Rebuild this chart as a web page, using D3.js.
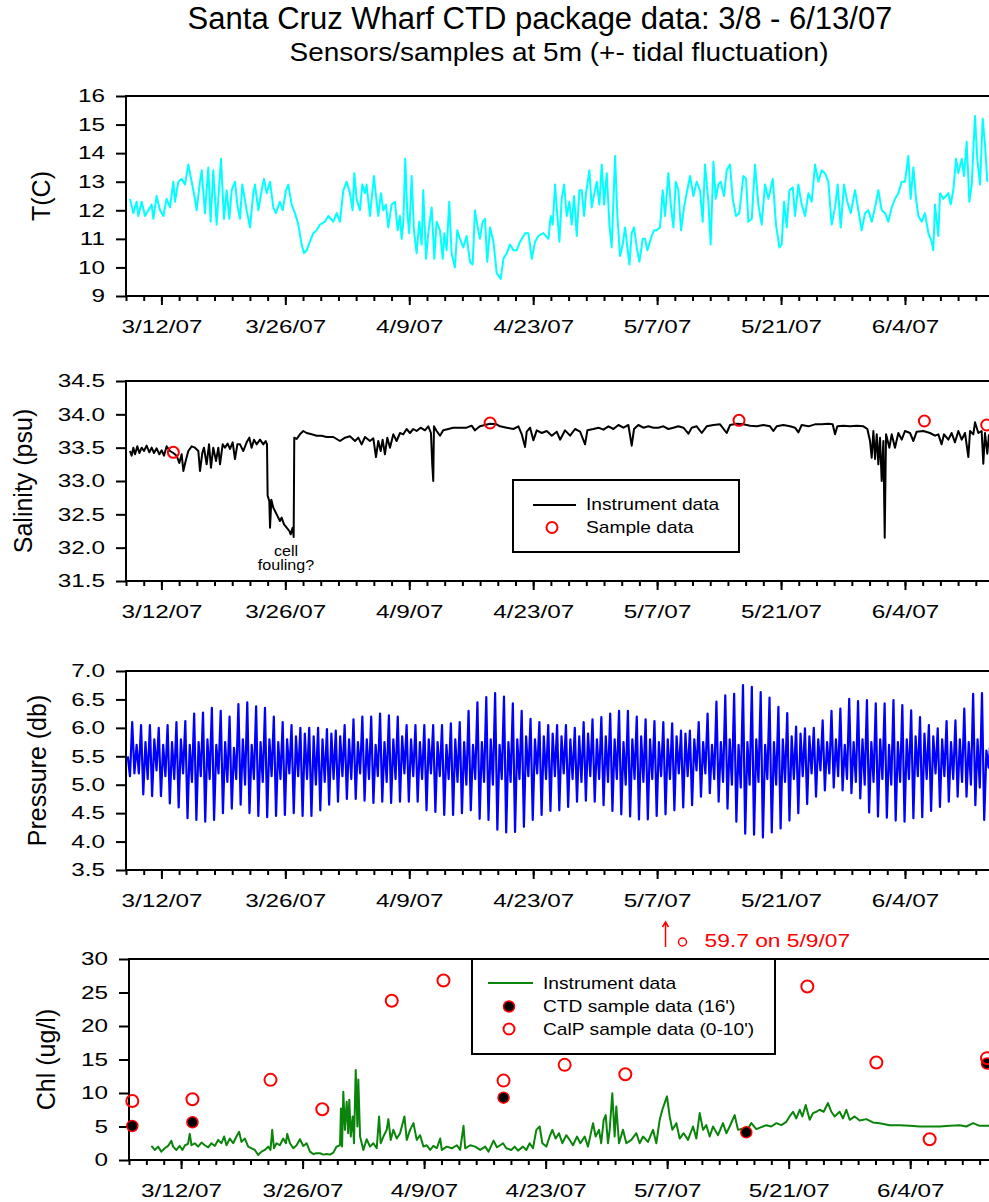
<!DOCTYPE html>
<html>
<head>
<meta charset="utf-8">
<script src="https://cdn.jsdelivr.net/npm/d3@7"></script>
<style>
  body { margin: 0; background: #fff; }
  text { font-family: "Liberation Sans", Arial, sans-serif; }
</style>
</head>
<body>
<svg id="chart" width="989" height="1202"></svg>
<script>
// ---- data (days counted from 3/8/07 00:00) ----
var dateTicks = ["3/12/07", "3/26/07", "4/9/07", "4/23/07", "5/7/07", "5/21/07", "6/4/07"];

// temperature, [day, degC]
var tempData = [
[0.45,12.4],[0.83,11.9],[1.20,12.3],[1.39,11.8],[1.77,12.3],[2.15,11.8],[2.52,12.0],[2.90,12.2],[3.09,11.7],[3.46,12.5],
[3.84,12.0],[4.22,11.8],[4.59,12.4],[4.97,12.1],[5.35,13.0],[5.53,12.3],[5.91,13.0],[6.29,13.1],[6.66,12.9],[7.04,13.6],
[7.42,13.0],[7.79,12.4],[7.98,12.0],[8.36,13.0],[8.55,13.4],[8.92,11.9],[9.30,13.5],[9.56,11.6],[9.86,13.4],[10.24,11.5],
[10.73,13.8],[11.07,11.7],[11.37,12.7],[11.67,11.7],[11.94,12.7],[12.31,13.0],[12.58,12.2],[12.88,11.7],[13.14,12.9],[13.63,12.0],
[14.01,11.4],[14.38,12.6],[14.57,12.9],[14.95,12.0],[15.32,12.7],[15.59,13.1],[15.89,12.6],[16.27,13.0],[16.64,12.1],[16.94,11.9],
[17.39,12.3],[17.70,12.0],[18.07,12.7],[18.34,12.9],[18.71,12.2],[19.09,11.9],[19.28,11.7],[19.47,11.5],[19.84,10.8],[20.11,10.5],
[20.41,10.6],[20.78,10.9],[21.16,11.2],[21.54,11.3],[21.91,11.5],[22.48,11.6],[22.85,11.8],[23.42,11.6],[23.80,11.9],[24.17,11.6],
[24.55,12.7],[24.92,13.0],[25.30,12.6],[25.60,12.0],[25.79,13.3],[26.05,12.4],[26.43,12.0],[26.69,12.9],[27.00,12.6],[27.18,12.9],
[27.56,11.8],[28.01,13.2],[28.31,12.3],[28.50,11.8],[28.80,12.6],[29.07,12.0],[29.37,12.2],[29.63,11.4],[30.01,12.2],[30.38,12.3],
[30.69,11.3],[30.95,11.8],[31.14,11.0],[31.33,11.6],[31.55,13.8],[31.78,11.9],[32.00,11.2],[32.27,13.2],[32.53,11.3],[32.83,10.5],
[33.13,11.6],[33.40,10.8],[33.58,12.7],[33.89,10.3],[34.15,11.2],[34.53,12.1],[34.83,10.3],[35.09,11.6],[35.47,11.3],[35.77,10.3],
[35.96,11.2],[36.22,10.6],[36.52,12.3],[36.78,10.5],[37.16,10.0],[37.42,11.3],[37.73,11.0],[38.10,10.7],[38.48,11.1],[38.86,10.2],
[39.16,10.1],[39.42,12.0],[39.68,11.5],[39.98,11.0],[40.29,11.6],[40.55,11.7],[40.81,10.2],
[41.13,11.4],[41.51,10.9],[41.88,9.8],[42.33,9.6],[42.64,10.3],[43.01,10.5],[43.39,10.8],[43.77,10.6],[44.14,10.6],[44.52,10.9],
[45.08,11.2],[45.46,11.2],[45.84,10.3],[46.21,10.9],[46.59,11.1],[47.15,11.2],[47.72,11.0],[47.98,11.8],[48.21,11.5],[48.47,12.9],
[48.73,11.8],[48.96,10.9],[49.22,12.4],[49.49,12.9],[49.79,11.8],[50.09,12.3],[50.35,11.5],[50.62,12.5],[50.92,11.1],[51.22,12.7],
[51.48,12.7],[51.75,11.8],[51.97,12.6],[52.35,13.4],[52.61,12.1],[52.91,12.6],[53.18,13.0],[53.48,12.2],[53.74,13.6],[54.01,12.2],
[54.31,13.3],[54.61,11.5],[54.87,10.7],[55.25,13.9],[55.51,11.8],[55.81,10.4],[56.11,10.8],[56.38,11.4],[56.87,10.1],[57.13,11.2],
[57.39,11.4],[57.70,10.7],[58.00,10.2],[58.37,11.0],[58.64,11.0],[58.90,10.6],[59.39,11.1],[59.65,11.3],[59.95,11.3],[60.33,11.4],
[60.63,12.7],[60.90,11.8],[61.27,13.3],[61.54,12.2],[61.84,11.4],[62.10,13.0],[62.40,12.7],[62.70,11.3],[63.04,12.1],[63.34,12.6],
[63.72,13.2],[64.10,12.5],[64.47,13.0],[64.85,12.7],[65.15,11.6],[65.41,13.6],[65.79,12.3],[66.05,10.8],[66.36,13.7],[66.62,12.4],
[66.92,12.9],[67.18,13.0],[67.56,12.5],[67.86,13.4],[68.24,13.6],[68.54,12.4],[68.92,11.8],[69.29,11.9],[69.74,13.2],[70.05,13.1],
[70.31,11.6],[70.69,11.7],[71.06,13.6],[71.44,12.2],[71.81,11.5],[72.19,12.9],[72.57,12.4],[73.06,13.1],[73.43,11.5],[73.81,10.7],
[74.07,10.8],[74.34,12.3],[74.64,11.4],[74.94,12.7],[75.32,12.8],[75.58,11.8],[75.96,12.9],[76.33,12.2],[76.71,11.8],[77.09,12.6],
[77.46,12.3],[77.84,13.6],[78.22,13.0],[78.59,13.4],[78.97,13.3],[79.34,13.0],[79.72,11.5],[80.10,12.1],[80.40,12.9],[80.74,11.4],
[81.11,12.9],[81.49,12.3],[81.87,11.9],[82.36,12.7],[82.73,12.0],[83.11,11.3],[83.49,11.9],[83.86,12.0],[84.24,11.6],[84.62,12.1],
[84.99,12.7],[85.37,12.0],[85.75,11.9],[86.12,11.6],[86.50,12.1],[86.87,12.4],[87.25,12.6],[87.63,13.0],[88.00,13.0],[88.38,13.9],
[88.64,12.4],[88.95,13.5],[89.25,12.4],[89.51,11.8],[89.89,11.6],[90.26,11.9],[90.64,11.2],[91.02,10.9],[91.20,10.6],[91.39,12.2],
[91.77,11.1],[91.96,12.6],[92.33,12.4],[92.64,12.5],[92.90,12.6],[93.16,12.2],[93.46,12.7],[93.77,13.8],[94.03,13.3],[94.41,13.8],
[94.67,13.2],[94.97,14.4],[95.27,12.3],[95.54,12.9],[95.91,15.3],[96.17,13.8],[96.48,12.9],[96.78,15.2],[97.04,14.3],[97.30,13.0]
];

// salinity, [day, psu]
var salData = [
[0.45,33.45],[0.64,33.38],[0.83,33.5],[1.02,33.4],[1.28,33.52],[1.51,33.42],[1.77,33.5],[2.03,33.45],[2.33,33.53],[2.64,33.43],
[2.90,33.5],[3.16,33.42],[3.46,33.49],[3.77,33.4],[4.03,33.46],[4.29,33.38],[4.59,33.52],[4.97,33.45],[5.35,33.42],[5.72,33.38],
[6.02,33.27],[6.29,33.4],[6.48,33.15],[6.74,33.3],[7.04,33.45],[7.42,33.52],[7.79,33.5],[8.17,33.45],[8.36,33.15],[8.62,33.42],
[8.81,33.5],[9.11,33.25],[9.38,33.55],[9.60,33.2],[9.86,33.5],[10.17,33.3],[10.43,33.5],[10.62,33.25],[10.92,33.55],[11.18,33.5],
[11.48,33.56],[11.75,33.48],[12.05,33.58],[12.31,33.33],[12.58,33.55],[12.88,33.55],[13.25,33.45],[13.63,33.58],[13.93,33.65],[14.19,33.5],
[14.46,33.62],[14.76,33.55],[15.14,33.62],[15.51,33.55],[15.78,33.6],[15.93,33.55],[16.0,32.78],[16.19,32.7],[16.27,32.3],[16.42,32.72],
[16.64,32.6],[16.83,32.55],[17.09,32.48],[17.39,32.4],[17.58,32.45],[17.85,32.35],[18.15,32.3],[18.45,32.25],[18.60,32.2],[18.83,32.3],
[18.94,32.16],[19.01,33.65],[19.28,33.63],[19.65,33.7],[20.03,33.75],[20.41,33.72],[20.97,33.7],[21.54,33.68],[22.10,33.68],[22.67,33.66],
[23.42,33.66],[24.17,33.6],[24.74,33.65],[25.30,33.67],[25.87,33.6],[26.24,33.65],[26.62,33.55],[27.00,33.66],[27.56,33.6],[27.94,33.64],
[28.24,33.36],[28.50,33.6],[28.77,33.45],[28.99,33.62],[29.25,33.4],[29.52,33.65],[29.82,33.5],[30.20,33.7],[30.57,33.6],[30.95,33.72],
[31.33,33.7],[31.70,33.78],[32.08,33.72],[32.45,33.78],[32.83,33.75],[33.28,33.8],[33.77,33.76],[34.15,33.82],[34.45,33.72],[34.60,33.24],
[34.71,33.0],[34.79,33.82],[35.09,33.75],[35.47,33.68],[35.84,33.76],[36.41,33.78],[36.97,33.8],[37.73,33.8],[38.48,33.8],[39.05,33.83],
[39.42,33.76],[39.98,33.82],[40.55,33.84],[41.11,33.86],[41.87,33.85],[42.26,33.82],[43.01,33.8],[43.77,33.78],[44.33,33.82],[44.71,33.7],
[45.08,33.51],[45.27,33.74],[45.65,33.8],[46.02,33.61],[46.40,33.76],[46.97,33.72],[47.53,33.75],[48.10,33.68],[48.66,33.74],[49.04,33.62],
[49.60,33.76],[50.17,33.68],[50.73,33.78],[51.30,33.74],[51.86,33.55],[52.12,33.76],[52.80,33.78],[53.37,33.8],[53.93,33.77],[54.50,33.82],
[55.06,33.78],[55.63,33.84],[56.19,33.8],[56.75,33.84],[57.13,33.53],[57.39,33.78],[57.88,33.84],[58.45,33.8],[59.01,33.82],[59.58,33.8],
[60.14,33.8],[60.71,33.82],[61.27,33.78],[61.84,33.8],[62.40,33.82],[62.97,33.8],[63.53,33.71],[63.91,33.8],[64.47,33.82],[65.04,33.72],
[65.60,33.82],[66.36,33.84],[67.11,33.85],[67.86,33.72],[68.24,33.84],[68.99,33.86],[69.74,33.85],[70.50,33.83],[71.25,33.82],[72.00,33.84],
[72.76,33.82],[73.13,33.75],[73.51,33.82],[74.26,33.84],[75.02,33.82],[75.58,33.8],[75.96,33.73],[76.33,33.84],[77.09,33.82],[77.84,33.85],
[78.59,33.85],[79.34,33.86],[79.83,33.85],[80.10,33.7],[80.36,33.82],[81.04,33.83],[81.79,33.82],[82.55,33.83],[83.30,33.82],[83.75,33.78],
[84.05,33.6],[84.24,33.35],[84.43,33.75],[84.62,33.33],[84.81,33.7],[84.99,33.25],[85.18,33.65],[85.37,33.0],[85.56,33.6],[85.71,32.15],
[85.86,33.7],[86.24,33.5],[86.50,33.7],[86.87,33.5],[87.25,33.72],[87.63,33.62],[88.00,33.75],[88.57,33.72],[88.95,33.6],[89.32,33.74],
[90.08,33.75],[90.83,33.72],[91.39,33.68],[91.77,33.7],[92.14,33.55],[92.41,33.7],[92.90,33.62],[93.27,33.72],[93.65,33.58],[94.03,33.75],
[94.41,33.62],[94.78,33.72],[95.16,33.36],[95.35,33.75],[95.72,33.7],[95.91,33.88],[96.29,33.72],[96.66,33.75],[96.85,33.26],[97.04,33.72],
[97.30,33.41],[97.49,33.7]
];
var salSamples = [[5.35,33.43],[41.13,33.87],[69.25,33.91],[90.19,33.9],[97.23,33.84]];

// pressure, one value per day (3/8 .. 6/13) for each of the four daily tides
var presHH = [6.1,6.05,6.05,6.0,6.05,6.1,6.12,6.25,6.27,6.35, 6.3,6.2,6.42,6.45,6.38,6.35,6.2,6.1,6.05,6.0,
  6.0,6.0,5.98,5.95,6.05,6.15,6.2,6.2,6.25,6.22, 6.2,6.05,6.05,6.05,6.05,6.05,6.08,6.1,6.3,6.45,
  6.54,6.61,6.55,6.43,6.3,6.16,6.1,6.05,6.05,6.05, 6.0,6.1,6.15,6.19,6.25,6.3,6.3,6.2,6.15,6.12,
  6.1,6.08,5.95,5.95,6.1,6.25,6.46,6.57,6.6,6.75, 6.72,6.63,6.53,6.37,6.26,6.02,5.99,6.0,6.13,6.3,
  6.34,6.51,6.47,6.49,6.43,6.43,6.49,6.4,6.31,6.19, 6.05,5.99,6.12,6.13,6.34,6.6,6.61,5.9];
var presLL = [5.2,4.83,4.8,4.8,4.67,4.6,4.41,4.38,4.35,4.38, 4.5,4.58,4.65,4.5,4.45,4.43,4.45,4.47,4.5,4.45,
  4.45,4.55,4.65,4.7,4.75,4.75,4.72,4.68,4.7,4.68, 4.7,4.7,4.7,4.55,4.52,4.47,4.47,4.5,4.55,4.4,
  4.38,4.21,4.16,4.17,4.26,4.38,4.47,4.54,4.55,4.61, 4.7,4.72,4.7,4.64,4.54,4.48,4.44,4.39,4.39,4.45,
  4.48,4.55,4.6,4.64,4.79,4.85,4.7,4.58,4.35,4.14, 4.12,4.07,4.16,4.23,4.37,4.5,4.66,4.79,4.9,4.95,
  4.9,4.85,4.76,4.51,4.44,4.42,4.37,4.35,4.41,4.43, 4.54,4.61,4.7,4.79,4.79,4.64,4.38,4.29];
var presLH = [5.5,5.7,5.75,5.8,5.7,5.75,5.8,5.7,5.75,5.8, 5.7,5.75,5.65,5.8,5.7,5.75,5.8,5.75,5.8,5.85,
  5.9,5.85,5.8,5.9,5.85,5.8,5.75,5.8,5.7,5.75, 5.8,5.85,5.8,5.75,5.8,5.75,5.7,5.8,5.75,5.7,
  5.75,5.8,5.7,5.75,5.8,5.85,5.8,5.85,5.9,5.85, 5.8,5.85,5.9,5.8,5.85,5.8,5.75,5.8,5.85,5.8,
  5.75,5.8,5.85,5.9,5.8,5.75,5.7,5.75,5.8,5.7, 5.75,5.8,5.7,5.75,5.8,5.85,5.9,5.85,5.8,5.75,
  5.8,5.7,5.75,5.8,5.75,5.8,5.7,5.75,5.8,5.85, 5.9,5.85,5.8,5.75,5.8,5.75,5.8,5.6];
var presHL = [5.15,5.2,5.1,5.25,5.15,5.1,5.2,5.05,5.15,5.1, 5.2,5.05,5.1,5.0,5.1,5.05,5.15,5.1,5.2,5.15,
  5.1,5.0,5.05,5.1,5.15,5.1,5.2,5.1,5.15,5.05, 5.1,5.2,5.15,5.1,5.2,5.15,5.1,5.05,5.0,5.1,
  5.05,5.0,5.1,5.05,5.1,5.15,5.2,5.1,5.15,5.2, 5.1,5.05,5.15,5.1,5.05,5.1,5.0,5.1,5.05,5.1,
  5.15,5.1,5.2,5.15,5.25,5.2,5.1,5.05,5.0,4.95, 5.0,5.05,5.1,5.0,5.05,5.1,5.15,5.2,5.25,5.2,
  5.15,5.1,5.05,5.0,5.05,5.1,5.0,5.05,5.1,5.15, 5.1,5.2,5.15,5.1,5.05,5.0,4.95,5.3];

// chlorophyll instrument, [day, ug/l]
var chlData = [
[0.58,2.1],[0.96,1.5],[1.35,2.0],[1.73,1.25],[2.12,1.75],[2.5,2.1],[2.88,2.85],[3.08,2.0],[3.46,1.5],[3.85,2.1],
[4.15,1.5],[4.46,2.2],[4.8,2.4],[5.0,3.9],[5.2,2.2],[5.58,2.5],[5.96,2.0],[6.35,2.6],[6.73,2.2],[7.12,1.9],
[7.5,2.5],[7.88,2.1],[8.27,3.0],[8.65,2.5],[8.96,3.5],[9.23,2.2],[9.62,3.2],[10.0,2.5],[10.38,3.5],[10.69,4.2],
[10.96,2.7],[11.35,3.2],[11.73,2.0],[12.12,1.75],[12.5,1.5],[12.88,0.75],[13.27,1.25],[13.65,1.5],[14.04,2.0],[14.3,1.5],
[14.5,4.5],[14.7,1.75],[15.0,2.5],[15.38,2.2],[15.77,3.2],[16.08,2.5],[16.23,3.9],[16.54,2.5],[16.92,1.75],[17.31,2.2],
[17.69,3.1],[18.08,2.1],[18.46,2.5],[18.85,1.25],[19.23,0.9],[19.6,1.0],[20.0,1.0],[20.4,0.8],[20.77,0.9],[21.15,0.8],
[21.54,1.1],[21.92,2.0],[22.31,2.2],[22.42,7.7],[22.55,2.0],[22.69,10.2],[22.88,4.5],[23.08,8.7],[23.25,4.0],[23.38,9.0],
[23.55,3.5],[23.77,6.5],[23.92,2.5],[24.12,13.45],[24.31,5.0],[24.42,12.0],[24.62,3.5],[25.0,1.5],[25.38,3.1],[25.77,2.0],
[26.15,2.5],[26.54,1.75],[26.81,6.5],[27.0,2.5],[27.31,3.5],[27.69,4.5],[27.88,6.1],[28.15,3.0],[28.46,4.5],[28.85,3.2],
[29.23,4.0],[29.73,6.5],[30.0,3.0],[30.38,4.5],[30.77,5.5],[31.15,3.0],[31.54,3.7],[31.92,2.0],[32.31,2.2],[32.69,1.5],
[33.08,2.1],[33.46,1.75],[33.85,3.2],[34.04,1.5],[34.62,2.0],[35.19,1.75],[35.77,2.2],[36.15,1.5],[36.54,5.1],[36.73,1.75],
[37.31,2.2],[37.88,2.0],[38.46,1.5],[39.04,2.0],[39.42,1.25],[40.0,2.9],[40.38,1.9],[40.77,2.2],[41.09,2.5],[41.47,1.75],
[42.05,1.5],[42.43,2.0],[42.82,1.4],[43.39,2.0],[43.78,1.5],[44.16,2.5],[44.54,1.75],[44.93,4.5],[45.31,5.0],[45.62,2.5],
[46.08,2.0],[46.46,3.5],[46.77,4.5],[47.16,3.2],[47.54,4.0],[47.92,2.5],[48.38,3.7],[48.77,3.0],[49.15,2.2],[49.61,3.5],
[50.0,2.5],[50.5,3.5],[50.88,2.0],[51.46,5.5],[51.76,3.5],[52.15,4.5],[52.4,2.5],[52.69,6.0],[52.92,6.7],[53.18,2.5],
[53.38,4.5],[53.68,9.97],[53.95,3.5],[54.14,8.0],[54.45,2.5],[54.91,4.5],[55.3,2.5],[55.87,3.0],[56.45,4.0],[56.83,2.5],
[57.22,3.5],[57.79,2.7],[58.37,4.5],[58.75,2.5],[59.14,6.0],[59.44,7.5],[59.71,8.5],[59.98,9.5],[60.29,6.5],[60.6,4.5],
[61.06,5.5],[61.44,3.2],[61.9,4.0],[62.4,3.0],[62.98,5.0],[63.36,3.2],[63.75,7.0],[64.13,4.5],[64.51,5.2],[64.9,3.5],
[65.28,5.0],[65.86,3.7],[66.43,5.5],[66.82,4.0],[67.2,5.0],[67.78,6.7],[68.16,4.5],[68.74,4.7],[69.31,4.7],[69.7,5.5],
[70.27,4.6],[70.85,4.9],[71.43,5.2],[72.0,5.0],[72.58,5.5],[73.15,5.2],[73.73,5.7],[74.11,6.5],[74.5,7.2],[74.88,6.2],
[75.27,7.5],[75.57,6.5],[75.96,8.2],[76.42,6.0],[76.8,7.0],[77.19,7.2],[77.57,7.5],[78.03,7.2],[78.53,8.5],[78.91,7.2],
[79.3,6.5],[79.87,7.2],[80.26,6.2],[80.64,7.5],[81.03,6.0],[81.6,6.5],[82.18,5.9],[82.95,6.1],[83.71,5.6],[84.48,5.5],
[85.63,5.2],[86.79,5.2],[87.94,5.1],[89.09,5.0],[90.24,5.0],[91.4,5.0],[92.55,5.1],[93.7,5.2],[94.47,5.0],[95.24,5.5],
[96.0,5.1],[97.04,5.1],[97.6,5.0]
];
var ctdSamples = [[-1.62,5.08],[5.31,5.63],[41.15,9.3],[69.12,4.13],[96.85,14.4]];
var calpSamples = [[-1.62,8.8],[5.31,9.07],[14.3,11.96],[20.27,7.57],[28.27,23.77],[34.23,26.8],[41.15,11.85],
  [48.19,14.2],[55.18,12.8],[62.0,59.7],[76.15,25.9],[84.1,14.55],[90.24,3.09],[96.85,15.2]];

// ---- drawing ----
var svg = d3.select("#chart");
var SX = 1.35; // the tick lettering in the original is stretched sideways
var parse = d3.timeParse("%m/%d/%y");
var fmtDay = d3.timeFormat("%-m/%-d/%y");
var t0 = parse("3/8/07");
function atDay(d) { return new Date(+t0 + d * 864e5); }

function panel(o) {
  var x = d3.scaleTime().domain([parse(o.from), parse("6/14/07")]).range([o.left, o.right]);
  var y = d3.scaleLinear().domain(o.yDomain).range([o.bottom, o.top]);
  var g = svg.append("g");

  // minor ticks every 2 days
  g.append("g").attr("transform", "translate(0," + o.bottom + ")")
    .call(d3.axisBottom(x).tickValues(d3.timeDay.range(x.domain()[0], x.domain()[1], 2))
      .tickSize(5).tickSizeOuter(0).tickFormat(""))
    .call(function(a) { a.select(".domain").remove(); a.selectAll("line").attr("stroke-width", 2); });
  // major ticks with date labels
  g.append("g").attr("transform", "translate(0," + o.bottom + ")")
    .call(d3.axisBottom(x).tickValues(dateTicks.map(parse)).tickSize(9).tickSizeOuter(0).tickFormat(fmtDay))
    .attr("font-size", 18).attr("font-family", null)
    .call(function(a) {
      a.select(".domain").remove();
      a.selectAll("line").attr("stroke-width", 2);
      a.selectAll("text").attr("y", 24).attr("transform", "scale(" + SX + ",1)").attr("fill", "#000");
    });
  // y axis
  g.append("g").attr("transform", "translate(" + o.left + ",0)")
    .call(d3.axisLeft(y).tickValues(o.yTicks).tickSize(10).tickSizeOuter(0).tickFormat(o.yFmt))
    .attr("font-size", 18).attr("font-family", null)
    .call(function(a) {
      a.select(".domain").remove();
      a.selectAll("line").attr("stroke-width", 2);
      a.selectAll("text").attr("x", -21 / SX).attr("transform", "scale(" + SX + ",1)").attr("fill", "#000");
    });
  // frame (right side runs off the page like in the original)
  g.append("rect").attr("x", o.left).attr("y", o.top)
    .attr("width", o.right - o.left).attr("height", o.bottom - o.top)
    .attr("fill", "none").attr("stroke", "#000").attr("stroke-width", 2);
  // axis title
  g.append("text")
    .attr("transform", "translate(" + o.titleX + "," + (o.top + o.bottom) / 2 + ") rotate(-90)")
    .attr("text-anchor", "middle").attr("font-size", 25).text(o.title);
  return { g: g, x: x, y: y };
}

function drawLine(p, data, color, width) {
  var line = d3.line().x(function(d) { return p.x(atDay(d[0])); }).y(function(d) { return p.y(d[1]); });
  p.g.append("path").datum(data).attr("d", line)
    .attr("fill", "none").attr("stroke", color).attr("stroke-width", width).attr("stroke-linejoin", "round");
}

// title
svg.append("text").attr("x", 540).attr("y", 29).attr("text-anchor", "middle")
  .attr("font-size", 31).text("Santa Cruz Wharf CTD package data: 3/8 - 6/13/07");
svg.append("text").attr("transform", "translate(559,61) scale(1.12,1)").attr("text-anchor", "middle")
  .attr("font-size", 25).text("Sensors/samples at 5m (+- tidal fluctuation)");

// temperature
var pT = panel({ from: "3/8/07", left: 126, right: 993.5, top: 96, bottom: 296,
  yDomain: [9, 16], yTicks: d3.range(9, 17), yFmt: d3.format("d"), title: "T(C)", titleX: 50 });
drawLine(pT, tempData, "#00ffff", 2);

// salinity
var pS = panel({ from: "3/8/07", left: 126, right: 993.5, top: 381, bottom: 581,
  yDomain: [31.5, 34.5], yTicks: d3.range(31.5, 34.51, 0.5), yFmt: d3.format(".1f"), title: "Salinity (psu)", titleX: 32 });
drawLine(pS, salData, "#000", 2);
pS.g.selectAll("circle.s").data(salSamples).enter().append("circle")
  .attr("cx", function(d) { return pS.x(atDay(d[0])); }).attr("cy", function(d) { return pS.y(d[1]); })
  .attr("r", 5.5).attr("fill", "none").attr("stroke", "#ff0000").attr("stroke-width", 2);
pS.g.append("text").attr("transform", "translate(286,556) scale(1.15,1)").attr("text-anchor", "middle")
  .attr("font-size", 14).text("cell");
pS.g.append("text").attr("transform", "translate(286,570) scale(1.15,1)").attr("text-anchor", "middle")
  .attr("font-size", 14).text("fouling?");
var legS = pS.g.append("g");
legS.append("rect").attr("x", 513).attr("y", 480).attr("width", 226).attr("height", 72)
  .attr("fill", "#fff").attr("stroke", "#000").attr("stroke-width", 2);
legS.append("line").attr("x1", 533).attr("x2", 576).attr("y1", 505).attr("y2", 505)
  .attr("stroke", "#000").attr("stroke-width", 2);
legS.append("circle").attr("cx", 552).attr("cy", 527.5).attr("r", 5.5)
  .attr("fill", "none").attr("stroke", "#ff0000").attr("stroke-width", 2);
legS.append("text").attr("transform", "translate(586,510) scale(1.2,1)").attr("font-size", 16).text("Instrument data");
legS.append("text").attr("transform", "translate(586,533) scale(1.2,1)").attr("font-size", 16).text("Sample data");

// pressure
var presData = [];
presHH.forEach(function(hh, i) {
  presData.push([i + 0.2, presLH[i]], [i + 0.45, presHL[i]], [i + 0.7, hh], [i + 0.95, presLL[i]]);
});
var pP = panel({ from: "3/8/07", left: 126, right: 993.5, top: 671, bottom: 870,
  yDomain: [3.5, 7.0], yTicks: d3.range(3.5, 7.01, 0.5), yFmt: d3.format(".1f"), title: "Pressure (db)", titleX: 46 });
drawLine(pP, presData, "#0000ff", 2.2);

// chlorophyll
var pC = panel({ from: "3/6/07", left: 129, right: 997, top: 959, bottom: 1160,
  yDomain: [0, 30], yTicks: d3.range(0, 31, 5), yFmt: d3.format("d"), title: "Chl (ug/l)", titleX: 55 });
drawLine(pC, chlData, "#0a840a", 2);
pC.g.selectAll("circle.ctd").data(ctdSamples).enter().append("circle")
  .attr("cx", function(d) { return pC.x(atDay(d[0])); }).attr("cy", function(d) { return pC.y(d[1]); })
  .attr("r", 5.5).attr("fill", "#000").attr("stroke", "#ff0000").attr("stroke-width", 1.5);
pC.g.selectAll("circle.calp").data(calpSamples.filter(function(d) { return d[1] <= 30; })).enter().append("circle")
  .attr("cx", function(d) { return pC.x(atDay(d[0])); }).attr("cy", function(d) { return pC.y(d[1]); })
  .attr("r", 6).attr("fill", "none").attr("stroke", "#ff0000").attr("stroke-width", 2);
// off-scale sample noted above the panel
calpSamples.filter(function(d) { return d[1] > 30; }).forEach(function(d) {
  var cx = pC.x(atDay(d[0])) - 2;
  pC.g.append("circle").attr("cx", cx).attr("cy", 942).attr("r", 4)
    .attr("fill", "none").attr("stroke", "#ff0000").attr("stroke-width", 1.5);
  pC.g.append("path").attr("d", "M" + (cx - 17) + ",947V922M" + (cx - 20) + ",927L" + (cx - 17) + ",922L" + (cx - 14) + ",927")
    .attr("fill", "none").attr("stroke", "#ff0000").attr("stroke-width", 1.5);
  pC.g.append("text").attr("transform", "translate(" + (cx + 22) + ",947) scale(1.2,1)")
    .attr("font-size", 19).attr("fill", "#ff0000").text(d[1] + " on " + fmtDay(atDay(d[0])));
});
var legC = pC.g.append("g");
legC.append("rect").attr("x", 472).attr("y", 959).attr("width", 303).attr("height", 95)
  .attr("fill", "#fff").attr("stroke", "#000").attr("stroke-width", 2);
legC.append("line").attr("x1", 488).attr("x2", 533).attr("y1", 983).attr("y2", 983)
  .attr("stroke", "#0a840a").attr("stroke-width", 2);
legC.append("circle").attr("cx", 509).attr("cy", 1006.5).attr("r", 5.5)
  .attr("fill", "#000").attr("stroke", "#ff0000").attr("stroke-width", 1.5);
legC.append("circle").attr("cx", 509).attr("cy", 1029).attr("r", 5.5)
  .attr("fill", "none").attr("stroke", "#ff0000").attr("stroke-width", 2);
legC.append("text").attr("transform", "translate(543,989) scale(1.2,1)").attr("font-size", 16).text("Instrument data");
legC.append("text").attr("transform", "translate(543,1012) scale(1.2,1)").attr("font-size", 16).text("CTD sample data (16')");
legC.append("text").attr("transform", "translate(543,1035) scale(1.2,1)").attr("font-size", 16).text("CalP sample data (0-10')");
</script>
</body>
</html>
